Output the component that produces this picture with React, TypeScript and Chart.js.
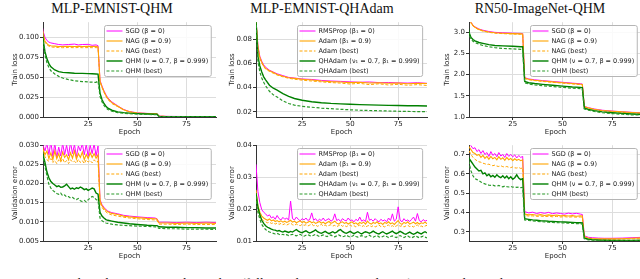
import React, { useEffect, useRef } from 'react';
import { Chart, registerables } from 'chart.js';

Chart.register(...registerables);

// ---------------- shared labels / ticks ----------------
const QHM_LABELS = ['SGD (β = 0)', 'NAG (β = 0.9)', 'NAG (best)', 'QHM (ν = 0.7, β = 0.999)', 'QHM (best)'];
const QHADAM_LABELS = ['RMSProp (β₁ = 0)', 'Adam (β₁ = 0.9)', 'Adam (best)', 'QHAdam (ν₁ = 0.7, β₁ = 0.999)', 'QHAdam (best)'];
const X_TICKS = [25, 50, 75];
const TITLES = ['MLP-EMNIST-QHM', 'MLP-EMNIST-QHAdam', 'RN50-ImageNet-QHM'];

// ---------------- MLP-EMNIST-QHM : train loss ----------------
const A_TRAIN_EPOCHS = [1, 2, 3, 4, 5, 6, 8, 10, 12, 15, 18, 20, 22, 25, 27, 29, 30, 31, 32, 33, 34, 35, 37, 40, 43, 46, 50, 55, 59, 60, 61, 65, 70, 75, 80, 85, 90];
const A_TRAIN_SGD = [0.125, 0.108, 0.100, 0.096, 0.094, 0.093, 0.092, 0.091, 0.0905, 0.091, 0.0915, 0.0905, 0.091, 0.0912, 0.090, 0.0905, 0.0895, 0.046, 0.039, 0.033, 0.028, 0.024, 0.019, 0.014, 0.0095, 0.0068, 0.0052, 0.0045, 0.0042, 0.0041, 0.0012, 0.0008, 0.0007, 0.0006, 0.0006, 0.0005, 0.0005];
const A_TRAIN_NAG = [0.125, 0.105, 0.095, 0.092, 0.090, 0.0895, 0.089, 0.0885, 0.0885, 0.0888, 0.0885, 0.0888, 0.0885, 0.0887, 0.0885, 0.0886, 0.088, 0.045, 0.038, 0.032, 0.027, 0.023, 0.018, 0.0135, 0.0092, 0.0066, 0.005, 0.0044, 0.0041, 0.004, 0.0011, 0.0007, 0.0006, 0.0006, 0.0005, 0.0005, 0.0005];
const A_TRAIN_NAG_BEST = [0.125, 0.104, 0.094, 0.0905, 0.089, 0.088, 0.0875, 0.0872, 0.087, 0.0872, 0.087, 0.0872, 0.087, 0.0871, 0.087, 0.0871, 0.0868, 0.044, 0.037, 0.031, 0.026, 0.022, 0.017, 0.013, 0.009, 0.0064, 0.0049, 0.0043, 0.004, 0.0039, 0.001, 0.0007, 0.0006, 0.0005, 0.0005, 0.0005, 0.0005];
const A_TRAIN_QHM = [0.125, 0.098, 0.082, 0.073, 0.067, 0.063, 0.059, 0.057, 0.056, 0.0555, 0.055, 0.0548, 0.0548, 0.0545, 0.0542, 0.054, 0.0538, 0.030, 0.022, 0.017, 0.0135, 0.011, 0.0085, 0.0065, 0.0055, 0.0048, 0.0042, 0.0037, 0.0035, 0.0034, 0.0008, 0.0005, 0.0005, 0.0004, 0.0004, 0.0004, 0.0004];
const A_TRAIN_QHM_BEST = [0.125, 0.095, 0.078, 0.068, 0.062, 0.058, 0.054, 0.051, 0.049, 0.047, 0.0455, 0.045, 0.0445, 0.044, 0.0437, 0.0435, 0.0452, 0.026, 0.019, 0.0145, 0.0115, 0.0095, 0.0072, 0.0055, 0.0047, 0.0041, 0.0036, 0.0032, 0.003, 0.003, 0.0006, 0.0004, 0.0004, 0.0003, 0.0003, 0.0003, 0.0003];
const A_TRAIN_YTICKS = [0, 0.025, 0.05, 0.075, 0.1];

// ---------------- MLP-EMNIST-QHAdam : train loss ----------------
const B_TRAIN_EPOCHS = [1, 2, 3, 4, 5, 6, 8, 10, 12, 15, 18, 21, 25, 30, 35, 40, 45, 50, 55, 60, 65, 70, 75, 80, 85, 90];
const B_TRAIN_RMSPROP = [0.096, 0.075, 0.066, 0.062, 0.059, 0.057, 0.0545, 0.053, 0.0515, 0.050, 0.0485, 0.048, 0.0472, 0.0468, 0.046, 0.0455, 0.0452, 0.0448, 0.0445, 0.0447, 0.0442, 0.0443, 0.044, 0.0438, 0.0441, 0.0436];
const B_TRAIN_ADAM = [0.096, 0.074, 0.065, 0.061, 0.058, 0.056, 0.054, 0.0525, 0.051, 0.0495, 0.0482, 0.0477, 0.047, 0.0463, 0.0455, 0.045, 0.0447, 0.0442, 0.0445, 0.0438, 0.044, 0.0436, 0.0438, 0.0432, 0.0436, 0.0434];
const B_TRAIN_ADAM_BEST = [0.096, 0.073, 0.064, 0.0605, 0.0575, 0.0555, 0.0535, 0.052, 0.0505, 0.049, 0.0478, 0.047, 0.0462, 0.0455, 0.0448, 0.0442, 0.0438, 0.043, 0.0436, 0.0425, 0.0432, 0.0422, 0.0428, 0.042, 0.0425, 0.0418];
const B_TRAIN_QHADAM = [0.096, 0.066, 0.058, 0.053, 0.049, 0.0465, 0.042, 0.0395, 0.038, 0.035, 0.0328, 0.031, 0.0295, 0.0283, 0.0275, 0.0269, 0.0265, 0.0262, 0.0259, 0.0257, 0.0255, 0.0253, 0.0251, 0.025, 0.0249, 0.0248];
const B_TRAIN_QHADAM_BEST = [0.096, 0.062, 0.053, 0.048, 0.0445, 0.0415, 0.037, 0.034, 0.0322, 0.029, 0.0268, 0.0255, 0.0245, 0.0237, 0.023, 0.0225, 0.022, 0.0216, 0.0212, 0.021, 0.0208, 0.0206, 0.0204, 0.0202, 0.0201, 0.020];
const B_TRAIN_YTICKS = [0.02, 0.04, 0.06, 0.08];

// ---------------- RN50-ImageNet-QHM : train loss ----------------
const C_TRAIN_EPOCHS = [1, 2, 3, 4, 5, 6, 8, 10, 13, 16, 20, 25, 29, 30, 31, 33, 36, 40, 45, 50, 55, 59, 60, 61, 63, 66, 70, 75, 80, 85, 90];
const C_TRAIN_SGD = [4.0, 3.6, 3.35, 3.24, 3.17, 3.13, 3.08, 3.05, 3.02, 3.0, 2.99, 2.98, 2.975, 2.97, 1.93, 1.90, 1.88, 1.86, 1.84, 1.82, 1.80, 1.785, 1.78, 1.25, 1.22, 1.19, 1.16, 1.14, 1.125, 1.11, 1.10];
const C_TRAIN_NAG = [4.0, 3.6, 3.34, 3.23, 3.16, 3.12, 3.07, 3.04, 3.01, 2.99, 2.98, 2.97, 2.965, 2.96, 1.92, 1.89, 1.87, 1.85, 1.83, 1.81, 1.79, 1.775, 1.77, 1.24, 1.215, 1.185, 1.155, 1.135, 1.12, 1.105, 1.095];
const C_TRAIN_NAG_BEST = [4.0, 3.6, 3.33, 3.22, 3.15, 3.11, 3.06, 3.03, 3.0, 2.98, 2.97, 2.96, 2.955, 2.95, 1.91, 1.88, 1.86, 1.84, 1.82, 1.80, 1.78, 1.765, 1.76, 1.23, 1.205, 1.175, 1.145, 1.125, 1.11, 1.095, 1.085];
const C_TRAIN_QHM = [3.9, 3.3, 3.0, 2.88, 2.83, 2.80, 2.76, 2.74, 2.71, 2.69, 2.68, 2.67, 2.66, 2.66, 1.84, 1.81, 1.79, 1.77, 1.75, 1.73, 1.71, 1.70, 1.695, 1.21, 1.18, 1.15, 1.12, 1.10, 1.085, 1.07, 1.06];
const C_TRAIN_QHM_BEST = [3.9, 3.25, 2.96, 2.84, 2.79, 2.76, 2.72, 2.69, 2.66, 2.64, 2.62, 2.61, 2.60, 2.60, 1.81, 1.78, 1.76, 1.74, 1.72, 1.70, 1.68, 1.67, 1.665, 1.19, 1.16, 1.13, 1.10, 1.08, 1.065, 1.05, 1.045];
const C_TRAIN_YTICKS = [1.0, 1.5, 2.0, 2.5, 3.0];

// ---------------- MLP-EMNIST-QHM : validation error ----------------
const D_VAL_EPOCHS = [1, 2, 3, 4, 5, 6, 7, 8, 9, 10, 11, 12, 13, 14, 15, 16, 17, 18, 19, 20, 21, 22, 23, 24, 25, 26, 27, 28, 29, 30, 31, 32, 33, 34, 35, 37, 40, 43, 46, 50, 55, 59, 60, 61, 65, 70, 75, 80, 85, 90];
const D_VAL_SGD = [0.034, 0.030, 0.0285, 0.0305, 0.0275, 0.031, 0.027, 0.0305, 0.0268, 0.0295, 0.0272, 0.0305, 0.0275, 0.030, 0.0272, 0.0308, 0.0278, 0.0302, 0.027, 0.0298, 0.0285, 0.0305, 0.0275, 0.0302, 0.027, 0.030, 0.0278, 0.0304, 0.0272, 0.0298, 0.0158, 0.0145, 0.0138, 0.0132, 0.0128, 0.0124, 0.0121, 0.0117, 0.0115, 0.0113, 0.0111, 0.011, 0.0108, 0.0099, 0.0099, 0.0098, 0.0099, 0.0098, 0.0099, 0.0098];
const D_VAL_NAG = [0.032, 0.029, 0.0275, 0.0285, 0.0265, 0.028, 0.0262, 0.0285, 0.0265, 0.0278, 0.026, 0.0282, 0.0268, 0.0275, 0.0262, 0.028, 0.0266, 0.0285, 0.0264, 0.0278, 0.0268, 0.0282, 0.0262, 0.0276, 0.0265, 0.028, 0.0268, 0.0278, 0.0266, 0.0275, 0.0155, 0.0142, 0.0135, 0.013, 0.0126, 0.0122, 0.0119, 0.0115, 0.0113, 0.0111, 0.0109, 0.0108, 0.0107, 0.0097, 0.0097, 0.0096, 0.0097, 0.0096, 0.0097, 0.0096];
const D_VAL_NAG_BEST = [0.031, 0.028, 0.027, 0.0262, 0.0258, 0.0265, 0.0255, 0.026, 0.0252, 0.0262, 0.0256, 0.0265, 0.0254, 0.026, 0.0252, 0.0262, 0.0256, 0.0258, 0.0253, 0.0263, 0.0255, 0.026, 0.0252, 0.0262, 0.0256, 0.026, 0.0254, 0.0262, 0.0256, 0.0258, 0.015, 0.0138, 0.0131, 0.0126, 0.0122, 0.0118, 0.0115, 0.0112, 0.011, 0.0108, 0.0106, 0.0105, 0.0104, 0.0094, 0.0094, 0.0093, 0.0094, 0.0093, 0.0093, 0.0093];
const D_VAL_QHM = [0.030, 0.0275, 0.0255, 0.023, 0.0215, 0.0205, 0.020, 0.0196, 0.0192, 0.0194, 0.019, 0.0191, 0.0194, 0.0198, 0.0192, 0.0186, 0.0188, 0.0185, 0.0189, 0.0187, 0.0191, 0.0188, 0.0184, 0.0186, 0.0182, 0.0185, 0.0188, 0.0186, 0.0175, 0.0172, 0.0125, 0.0115, 0.011, 0.0106, 0.0104, 0.0102, 0.0099, 0.0097, 0.0095, 0.0093, 0.0091, 0.009, 0.009, 0.0087, 0.0086, 0.0086, 0.0085, 0.0085, 0.0084, 0.0084];
const D_VAL_QHM_BEST = [0.029, 0.027, 0.0245, 0.022, 0.0198, 0.0188, 0.0182, 0.0178, 0.0174, 0.0172, 0.0175, 0.0168, 0.017, 0.0165, 0.0166, 0.0162, 0.0164, 0.016, 0.0158, 0.0161, 0.0155, 0.0153, 0.0156, 0.0152, 0.0158, 0.0162, 0.0166, 0.0164, 0.0158, 0.0156, 0.011, 0.0103, 0.0099, 0.0097, 0.0096, 0.0094, 0.0092, 0.0091, 0.009, 0.0089, 0.0088, 0.0087, 0.0087, 0.0083, 0.0082, 0.0082, 0.0081, 0.0081, 0.0081, 0.008];
const D_VAL_YTICKS = [0.005, 0.01, 0.015, 0.02, 0.025, 0.03];

// ---------------- MLP-EMNIST-QHAdam : validation error ----------------
const E_VAL_EPOCHS = Array.from({ length: 90 }, (_, i) => i + 1);
const E_VAL_RMSPROP = [0.034, 0.0255, 0.022, 0.0198, 0.019, 0.0185, 0.0178, 0.0182, 0.0172, 0.0176, 0.0168, 0.0180, 0.0170, 0.0166, 0.0174, 0.0168, 0.0172, 0.0165, 0.0225, 0.0170, 0.0166, 0.0175, 0.0168, 0.0163, 0.0170, 0.0166, 0.0172, 0.0164, 0.0168, 0.0188, 0.0165, 0.0170, 0.0162, 0.0168, 0.0164, 0.0172, 0.0163, 0.0167, 0.0170, 0.0162, 0.0166, 0.0185, 0.0164, 0.0168, 0.0161, 0.0170, 0.0165, 0.0163, 0.0172, 0.0164, 0.0166, 0.0160, 0.0168, 0.0163, 0.0175, 0.0162, 0.0166, 0.0161, 0.0190, 0.0165, 0.0168, 0.0162, 0.0170, 0.0164, 0.0160, 0.0168, 0.0163, 0.0166, 0.0160, 0.0172, 0.0164, 0.0185, 0.0162, 0.0168, 0.0207, 0.0165, 0.0160, 0.0170, 0.0163, 0.0166, 0.0161, 0.0168, 0.0175, 0.0162, 0.0186, 0.0164, 0.0160, 0.0167, 0.0162, 0.0165];
const E_VAL_ADAM = [0.026, 0.021, 0.019, 0.0178, 0.0172, 0.0168, 0.0165, 0.0169, 0.0163, 0.0166, 0.0161, 0.0164, 0.016, 0.0163, 0.0159, 0.0162, 0.0158, 0.0161, 0.0165, 0.0159, 0.0162, 0.0157, 0.016, 0.0163, 0.0158, 0.0161, 0.0156, 0.0159, 0.0162, 0.0157, 0.016, 0.0155, 0.0158, 0.0161, 0.0156, 0.0159, 0.0154, 0.0158, 0.0161, 0.0155, 0.0158, 0.0162, 0.0156, 0.0153, 0.0158, 0.016, 0.0155, 0.0158, 0.0153, 0.0157, 0.016, 0.0154, 0.0157, 0.0152, 0.0158, 0.0155, 0.0159, 0.0153, 0.0162, 0.0156, 0.0153, 0.0158, 0.0155, 0.016, 0.0154, 0.0157, 0.0152, 0.0158, 0.0155, 0.016, 0.0154, 0.0157, 0.0152, 0.0158, 0.0164, 0.0155, 0.0152, 0.0158, 0.0155, 0.016, 0.0153, 0.0156, 0.0159, 0.0154, 0.0158, 0.0153, 0.0157, 0.0155, 0.0159, 0.0154];
const E_VAL_ADAM_BEST = [0.024, 0.0195, 0.0178, 0.0168, 0.0163, 0.016, 0.0157, 0.0159, 0.0155, 0.0157, 0.0153, 0.0156, 0.0152, 0.0155, 0.0151, 0.0154, 0.015, 0.0153, 0.0156, 0.0151, 0.0149, 0.0153, 0.015, 0.0148, 0.0152, 0.0149, 0.0151, 0.0147, 0.015, 0.0153, 0.0148, 0.015, 0.0146, 0.0149, 0.0152, 0.0147, 0.015, 0.0146, 0.0149, 0.0151, 0.0147, 0.0149, 0.0145, 0.0148, 0.0151, 0.0146, 0.0149, 0.0145, 0.0148, 0.015, 0.0146, 0.0148, 0.0144, 0.0147, 0.015, 0.0145, 0.0148, 0.0144, 0.0147, 0.0149, 0.0145, 0.0148, 0.0144, 0.0147, 0.015, 0.0145, 0.0147, 0.0144, 0.0148, 0.015, 0.0145, 0.0148, 0.0144, 0.0147, 0.0151, 0.0146, 0.0148, 0.0144, 0.0147, 0.0149, 0.0145, 0.0147, 0.0144, 0.0148, 0.015, 0.0145, 0.0147, 0.0144, 0.0147, 0.0149];
const E_VAL_QHADAM = [0.025, 0.0205, 0.0182, 0.0165, 0.0155, 0.0148, 0.0143, 0.014, 0.0137, 0.0135, 0.0134, 0.0131, 0.0133, 0.013, 0.0128, 0.0131, 0.0129, 0.0127, 0.013, 0.0128, 0.0132, 0.0136, 0.0131, 0.0128, 0.0126, 0.0129, 0.0132, 0.0128, 0.0125, 0.0128, 0.0131, 0.0135, 0.0129, 0.0126, 0.0124, 0.0127, 0.013, 0.0126, 0.0123, 0.0126, 0.0129, 0.0125, 0.0128, 0.0133, 0.0136, 0.013, 0.0126, 0.0124, 0.0127, 0.013, 0.0126, 0.0123, 0.0126, 0.0129, 0.0125, 0.0122, 0.0126, 0.0129, 0.0127, 0.0124, 0.0127, 0.0131, 0.0127, 0.0124, 0.0122, 0.0126, 0.0129, 0.0125, 0.0122, 0.0125, 0.0128, 0.0131, 0.0126, 0.0123, 0.0126, 0.013, 0.0127, 0.0123, 0.0121, 0.0125, 0.0128, 0.0124, 0.0121, 0.0124, 0.0128, 0.0125, 0.0122, 0.0126, 0.0129, 0.0125];
const E_VAL_QHADAM_BEST = [0.024, 0.019, 0.0168, 0.0152, 0.0143, 0.0136, 0.0131, 0.0128, 0.0126, 0.0124, 0.0122, 0.0124, 0.0121, 0.0119, 0.0121, 0.0118, 0.012, 0.0117, 0.0119, 0.0121, 0.0118, 0.0116, 0.0119, 0.0121, 0.0117, 0.0115, 0.0118, 0.012, 0.0117, 0.0115, 0.0118, 0.0121, 0.0117, 0.0114, 0.0117, 0.0119, 0.0116, 0.0114, 0.0117, 0.0119, 0.0115, 0.0113, 0.0116, 0.0119, 0.0116, 0.0113, 0.0115, 0.0118, 0.0115, 0.0112, 0.0115, 0.0118, 0.0114, 0.0112, 0.0115, 0.0117, 0.0114, 0.0112, 0.0115, 0.0118, 0.0114, 0.0112, 0.0115, 0.0117, 0.0113, 0.0111, 0.0114, 0.0117, 0.0114, 0.0111, 0.0114, 0.0116, 0.0113, 0.0111, 0.0114, 0.0117, 0.0113, 0.0111, 0.0114, 0.0116, 0.0112, 0.011, 0.0113, 0.0116, 0.0113, 0.011, 0.0113, 0.0115, 0.0112, 0.011];
const E_VAL_YTICKS = [0.01, 0.02, 0.03, 0.04];

// ---------------- RN50-ImageNet-QHM : validation error ----------------
const F_VAL_EPOCHS = [1, 2, 3, 4, 5, 6, 7, 8, 9, 10, 11, 12, 13, 14, 15, 16, 17, 18, 19, 20, 21, 22, 23, 24, 25, 26, 27, 28, 29, 30, 31, 33, 35, 37, 39, 41, 43, 45, 47, 49, 51, 53, 55, 57, 59, 60, 61, 63, 65, 68, 71, 75, 80, 85, 90];
const F_VAL_SGD = [0.82, 0.78, 0.76, 0.745, 0.73, 0.735, 0.715, 0.725, 0.705, 0.72, 0.70, 0.71, 0.69, 0.715, 0.695, 0.705, 0.688, 0.71, 0.692, 0.70, 0.685, 0.705, 0.69, 0.70, 0.688, 0.698, 0.682, 0.695, 0.685, 0.69, 0.405, 0.398, 0.402, 0.395, 0.400, 0.396, 0.401, 0.394, 0.398, 0.395, 0.392, 0.397, 0.393, 0.396, 0.392, 0.39, 0.28, 0.272, 0.27, 0.268, 0.267, 0.267, 0.268, 0.27, 0.272];
const F_VAL_NAG = [0.80, 0.76, 0.74, 0.725, 0.71, 0.705, 0.695, 0.70, 0.685, 0.695, 0.68, 0.69, 0.675, 0.69, 0.678, 0.685, 0.672, 0.688, 0.675, 0.683, 0.67, 0.685, 0.673, 0.68, 0.668, 0.678, 0.67, 0.675, 0.668, 0.672, 0.392, 0.388, 0.39, 0.386, 0.389, 0.385, 0.388, 0.384, 0.387, 0.383, 0.385, 0.382, 0.384, 0.381, 0.383, 0.382, 0.275, 0.268, 0.266, 0.264, 0.264, 0.264, 0.265, 0.267, 0.269];
const F_VAL_NAG_BEST = [0.78, 0.74, 0.72, 0.70, 0.685, 0.675, 0.668, 0.662, 0.66, 0.655, 0.652, 0.648, 0.65, 0.645, 0.642, 0.645, 0.64, 0.638, 0.642, 0.637, 0.635, 0.638, 0.634, 0.632, 0.636, 0.631, 0.63, 0.633, 0.628, 0.63, 0.385, 0.382, 0.383, 0.380, 0.382, 0.379, 0.381, 0.378, 0.380, 0.377, 0.379, 0.376, 0.378, 0.376, 0.377, 0.376, 0.27, 0.265, 0.263, 0.262, 0.262, 0.262, 0.263, 0.264, 0.265];
const F_VAL_QHM = [0.72, 0.70, 0.68, 0.665, 0.65, 0.635, 0.625, 0.615, 0.618, 0.60, 0.605, 0.59, 0.598, 0.585, 0.592, 0.582, 0.595, 0.585, 0.58, 0.59, 0.578, 0.588, 0.575, 0.585, 0.572, 0.58, 0.595, 0.578, 0.57, 0.575, 0.368, 0.365, 0.362, 0.36, 0.358, 0.357, 0.355, 0.354, 0.353, 0.352, 0.351, 0.35, 0.349, 0.348, 0.347, 0.346, 0.268, 0.262, 0.26, 0.258, 0.257, 0.256, 0.256, 0.256, 0.257];
const F_VAL_QHM_BEST = [0.72, 0.69, 0.66, 0.615, 0.59, 0.575, 0.57, 0.565, 0.558, 0.552, 0.548, 0.545, 0.542, 0.54, 0.542, 0.538, 0.536, 0.54, 0.535, 0.533, 0.537, 0.534, 0.532, 0.535, 0.531, 0.533, 0.53, 0.532, 0.529, 0.53, 0.362, 0.359, 0.357, 0.355, 0.353, 0.352, 0.35, 0.349, 0.348, 0.347, 0.346, 0.345, 0.344, 0.343, 0.342, 0.342, 0.265, 0.259, 0.257, 0.256, 0.255, 0.254, 0.254, 0.254, 0.255];
const F_VAL_YTICKS = [0.3, 0.4, 0.5, 0.6, 0.7];

// ---------------- styling ----------------
const FONT = '"DejaVu Sans", sans-serif';
const TEXT = '#222222';
const GRID = '#dddddd';
const AXIS = '#333333';
const COLORS = ['#ff00ff', '#ffa500', '#ffa500', '#008000', '#2a9a2a'];
const WIDTHS = [1, 1.1, 1, 1.4, 1.2];
const DASHED = [false, false, true, false, true];

type PanelSpec = {
  left: number; top: number; width: number; height: number;
  yAxisWidth: number; padRight: number; yTitle: string; yTitlePad: number;
  xMin: number; xMax: number; yMin: number; yMax: number;
  yTicks: number[]; yDec: number;
  epochs: number[]; series: number[][]; labels: string[];
};

const boxLegend = {
  id: 'boxLegend',
  afterDatasetsDraw(chart: any) {
    const { ctx, chartArea } = chart;
    const ds = chart.data.datasets;
    ctx.save();
    ctx.font = '6.5px ' + FONT;
    let maxW = 0;
    ds.forEach((d: any) => { maxW = Math.max(maxW, ctx.measureText(d.label).width); });
    const rowH = 10;
    const w = 2 + 16 + 3 + maxW + 3;
    const h = rowH * ds.length + 1;
    const x = Math.round(chartArea.right - 5 - w) + 0.5;
    const y = Math.round(chartArea.top + 3) + 0.5;
    ctx.beginPath();
    if (ctx.roundRect) ctx.roundRect(x, y, w, h, 2); else ctx.rect(x, y, w, h);
    ctx.fillStyle = 'rgba(255,255,255,0.85)';
    ctx.fill();
    ctx.strokeStyle = '#b5b5b5';
    ctx.lineWidth = 1;
    ctx.stroke();
    ds.forEach((d: any, i: number) => {
      const cy = y + 5.5 + i * rowH;
      ctx.beginPath();
      ctx.setLineDash(d.borderDash || []);
      ctx.strokeStyle = d.borderColor;
      ctx.lineWidth = d.borderWidth;
      ctx.moveTo(x + 2, cy);
      ctx.lineTo(x + 18, cy);
      ctx.stroke();
      ctx.setLineDash([]);
      ctx.fillStyle = TEXT;
      ctx.textBaseline = 'middle';
      ctx.textAlign = 'left';
      ctx.fillText(d.label, x + 21, cy + 0.5);
    });
    ctx.restore();
  },
};

function makeConfig(p: PanelSpec): any {
  const tickFont = { family: FONT, size: 7 };
  return {
    type: 'line',
    data: {
      datasets: p.series.map((vals, i) => ({
        label: p.labels[i],
        data: p.epochs.map((e, j) => ({ x: e, y: vals[j] })),
        borderColor: COLORS[i],
        backgroundColor: COLORS[i],
        borderWidth: WIDTHS[i],
        borderDash: DASHED[i] ? [3, 1.8] : [],
        pointRadius: 0,
        tension: 0,
        fill: false,
        order: 4 - i,
      })),
    },
    options: {
      animation: false,
      responsive: false,
      devicePixelRatio: 1,
      layout: { padding: { top: 5, right: p.padRight, left: 0, bottom: 0 } },
      plugins: { legend: { display: false }, tooltip: { enabled: false } },
      scales: {
        x: {
          type: 'linear',
          min: p.xMin,
          max: p.xMax,
          afterBuildTicks: (s: any) => { s.ticks = X_TICKS.map((v) => ({ value: v })); },
          afterFit: (s: any) => { s.height = 21; },
          ticks: { font: tickFont, color: TEXT, padding: 0, maxRotation: 0, autoSkip: false, callback: (v: any) => String(v) },
          grid: { color: GRID, tickColor: AXIS, tickLength: 3, lineWidth: 1 },
          border: { color: AXIS, width: 1 },
          title: { display: true, text: 'Epoch', font: tickFont, color: TEXT, padding: { top: 0, bottom: 2 } },
        },
        y: {
          type: 'linear',
          min: p.yMin,
          max: p.yMax,
          afterBuildTicks: (s: any) => { s.ticks = p.yTicks.map((v) => ({ value: v })); },
          afterFit: (s: any) => { s.width = p.yAxisWidth; },
          ticks: { font: tickFont, color: TEXT, padding: 1, autoSkip: false, callback: (v: any) => Number(v).toFixed(p.yDec) },
          grid: { color: GRID, tickColor: AXIS, tickLength: 3, lineWidth: 1 },
          border: { color: AXIS, width: 1 },
          title: { display: true, text: p.yTitle, font: tickFont, color: TEXT, padding: { top: p.yTitlePad, bottom: 0 } },
        },
      },
    },
    plugins: [boxLegend],
  };
}

function Panel({ spec }: { spec: PanelSpec }) {
  const ref = useRef<HTMLCanvasElement>(null);
  useEffect(() => {
    const chart = new Chart(ref.current as HTMLCanvasElement, makeConfig(spec));
    return () => chart.destroy();
  }, []);
  return (
    <canvas
      ref={ref}
      width={spec.width}
      height={spec.height}
      style={{ position: 'absolute', left: spec.left, top: spec.top, width: spec.width, height: spec.height }}
    />
  );
}

const COL = [
  { left: 0, width: 218, yAxisWidth: 43, padRight: 2, yTitlePad: 10.8, xMin: 2 },
  { left: 212, width: 217, yAxisWidth: 44, padRight: 2, yTitlePad: 15.5, xMin: 1 },
  { left: 426, width: 216, yAxisWidth: 43, padRight: 0, yTitlePad: 16.5, xMin: 3 },
];

const PANELS: PanelSpec[] = [
  { ...COL[0], top: 17, height: 121, yTitle: 'Train loss', xMax: 90, yMin: 0, yMax: 0.119, yTicks: A_TRAIN_YTICKS, yDec: 3, epochs: A_TRAIN_EPOCHS, series: [A_TRAIN_SGD, A_TRAIN_NAG, A_TRAIN_NAG_BEST, A_TRAIN_QHM, A_TRAIN_QHM_BEST], labels: QHM_LABELS },
  { ...COL[1], top: 17, height: 121, yTitle: 'Train loss', xMax: 90, yMin: 0.0156, yMax: 0.0944, yTicks: B_TRAIN_YTICKS, yDec: 2, epochs: B_TRAIN_EPOCHS, series: [B_TRAIN_RMSPROP, B_TRAIN_ADAM, B_TRAIN_ADAM_BEST, B_TRAIN_QHADAM, B_TRAIN_QHADAM_BEST], labels: QHADAM_LABELS },
  { ...COL[2], top: 17, height: 121, yTitle: 'Train loss', xMax: 90, yMin: 1.0, yMax: 3.24, yTicks: C_TRAIN_YTICKS, yDec: 1, epochs: C_TRAIN_EPOCHS, series: [C_TRAIN_SGD, C_TRAIN_NAG, C_TRAIN_NAG_BEST, C_TRAIN_QHM, C_TRAIN_QHM_BEST], labels: QHM_LABELS },
  { ...COL[0], top: 140, height: 122, yTitle: 'Validation error', xMax: 90, yMin: 0.005, yMax: 0.030, yTicks: D_VAL_YTICKS, yDec: 3, epochs: D_VAL_EPOCHS, series: [D_VAL_SGD, D_VAL_NAG, D_VAL_NAG_BEST, D_VAL_QHM, D_VAL_QHM_BEST], labels: QHM_LABELS },
  { ...COL[1], top: 140, height: 122, yTitle: 'Validation error', xMax: 90, yMin: 0.01, yMax: 0.04, yTicks: E_VAL_YTICKS, yDec: 2, epochs: E_VAL_EPOCHS, series: [E_VAL_RMSPROP, E_VAL_ADAM, E_VAL_ADAM_BEST, E_VAL_QHADAM, E_VAL_QHADAM_BEST], labels: QHADAM_LABELS },
  { ...COL[2], top: 140, height: 122, yTitle: 'Validation error', xMax: 90, yMin: 0.253, yMax: 0.748, yTicks: F_VAL_YTICKS, yDec: 1, epochs: F_VAL_EPOCHS, series: [F_VAL_SGD, F_VAL_NAG, F_VAL_NAG_BEST, F_VAL_QHM, F_VAL_QHM_BEST], labels: QHM_LABELS },
];

const TITLE_CENTERS = [112, 322, 540];

export default function App() {
  return (
    <div style={{ position: 'fixed', left: 0, top: 0, width: 640, height: 279, overflow: 'hidden', background: '#ffffff' }}>
      {TITLES.map((t, i) => (
        <div
          key={t}
          style={{
            position: 'absolute', left: TITLE_CENTERS[i] - 110, top: 1, width: 220, textAlign: 'center',
            fontFamily: '"Liberation Serif", serif', fontSize: 14, lineHeight: '16px', color: '#111', whiteSpace: 'nowrap',
          }}
        >
          {t}
        </div>
      ))}
      {PANELS.map((p, i) => <Panel key={i} spec={p} />)}
      <div
        style={{
          position: 'absolute', left: 0, top: 276, width: 700, whiteSpace: 'nowrap',
          fontFamily: '"Liberation Serif", serif', fontSize: 13, lineHeight: '13px', color: '#111', wordSpacing: 7,
        }}
      >
        Figure 1: Selected experimental results (full results in Appendix C). To reduce clutter, we omit
      </div>
    </div>
  );
}
